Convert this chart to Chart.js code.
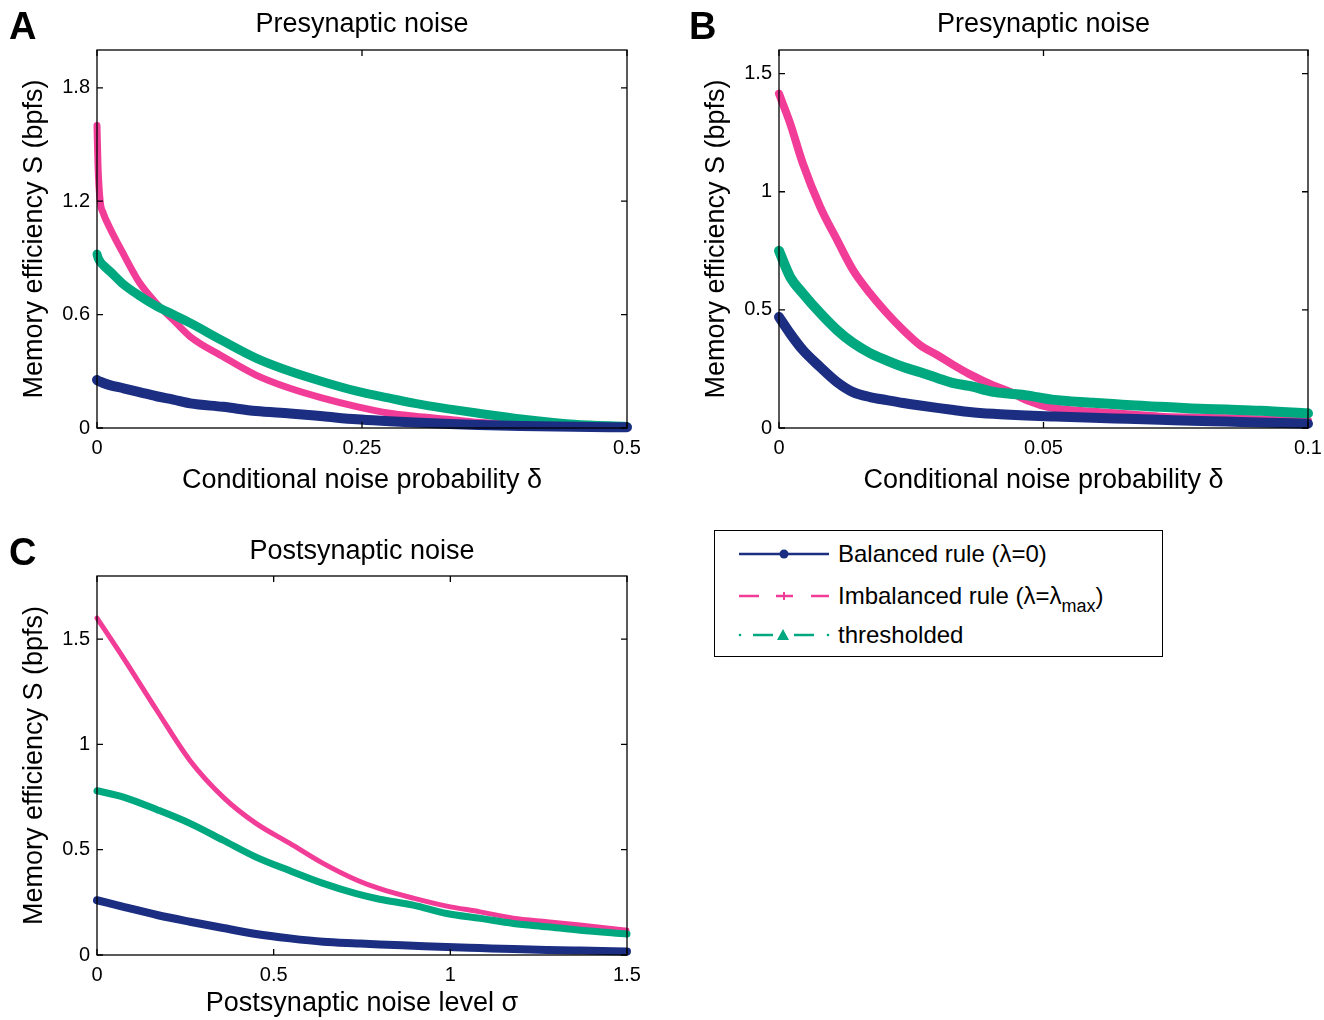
<!DOCTYPE html>
<html>
<head>
<meta charset="utf-8">
<script src="https://cdn.jsdelivr.net/npm/chart.js@4.4.1/dist/chart.umd.min.js"></script>
<style>
  body { margin: 0; background: #fff; width: 1324px; height: 1020px; overflow: hidden; position: relative;
         font-family: "Liberation Sans", Arial, Helvetica, sans-serif; color: #000; }
  canvas { position: absolute; }
  .letra { position: absolute; font-weight: bold; font-size: 38px; line-height: 38px; }
  #leyenda { position: absolute; left: 714px; top: 530px; width: 447px; height: 125px; border: 1.5px solid #000; }
  .fila { position: absolute; left: 0; height: 30px; width: 447px; }
  .fila svg { position: absolute; left: 22px; top: 0; }
  .fila span.txt { position: absolute; left: 123px; top: 0; font-size: 24px; line-height: 30px; white-space: nowrap; }
  .sub { font-size: 18px; position: relative; top: 8px; }
</style>
</head>
<body>

<canvas id="panelA" width="660" height="510" style="left:0;top:0"></canvas>
<canvas id="panelB" width="660" height="510" style="left:682px;top:0"></canvas>
<canvas id="panelC" width="660" height="492" style="left:0;top:528px"></canvas>

<div class="letra" style="left:9px;top:7px">A</div>
<div class="letra" style="left:689px;top:7px">B</div>
<div class="letra" style="left:9px;top:533px">C</div>

<div id="leyenda">
  <div class="fila" style="top:8px">
    <svg width="94" height="30">
      <line x1="2" y1="15" x2="92" y2="15" stroke="#1b2e82" stroke-width="2.5"/>
      <circle cx="47" cy="15" r="4.5" fill="#1b2e82"/>
    </svg>
    <span class="txt">Balanced rule (λ=0)</span>
  </div>
  <div class="fila" style="top:50px">
    <svg width="94" height="30">
      <line x1="2" y1="15" x2="22" y2="15" stroke="#f23d98" stroke-width="2.5"/>
      <line x1="39" y1="15" x2="56" y2="15" stroke="#f23d98" stroke-width="2.5"/>
      <line x1="47" y1="11" x2="47" y2="19" stroke="#f23d98" stroke-width="2"/>
      <line x1="74" y1="15" x2="92" y2="15" stroke="#f23d98" stroke-width="2.5"/>
    </svg>
    <span class="txt">Imbalanced rule (λ=λ<span class="sub">max</span>)</span>
  </div>
  <div class="fila" style="top:89px">
    <svg width="94" height="30">
      <circle cx="3" cy="15" r="1.3" fill="#00a87f"/>
      <line x1="16" y1="15" x2="36" y2="15" stroke="#00a87f" stroke-width="2.5"/>
      <polygon points="46,9 52,20 40,20" fill="#00a87f"/>
      <line x1="57" y1="15" x2="77" y2="15" stroke="#00a87f" stroke-width="2.5"/>
      <circle cx="91" cy="15" r="1.3" fill="#00a87f"/>
    </svg>
    <span class="txt">thresholded</span>
  </div>
</div>

<script>
// ---- Datos ----
// Panel A: ruido presinaptico, delta de 0 a 0.5
const xA = [0, 0.001, 0.003, 0.006, 0.012, 0.025, 0.04, 0.056, 0.072, 0.088, 0.119, 0.15, 0.182, 0.213, 0.245, 0.276, 0.3, 0.333, 0.36, 0.4, 0.45, 0.5];
const balanceadoA = [0.254, 0.25, 0.245, 0.238, 0.227, 0.21, 0.19, 0.168, 0.15, 0.13, 0.112, 0.09, 0.077, 0.062, 0.046, 0.036, 0.029, 0.021, 0.016, 0.01, 0.006, 0.004];
const desbalanceadoA = [1.6, 1.38, 1.2, 1.136, 1.06, 0.92, 0.77, 0.66, 0.571, 0.483, 0.377, 0.28, 0.21, 0.158, 0.113, 0.078, 0.062, 0.045, 0.03, 0.015, 0.006, 0.003];
const umbralA = [0.92, 0.9, 0.88, 0.86, 0.83, 0.76, 0.7, 0.645, 0.6, 0.555, 0.46, 0.37, 0.3, 0.245, 0.195, 0.158, 0.13, 0.1, 0.078, 0.048, 0.02, 0.008];

// Panel B: ruido presinaptico, delta de 0 a 0.1
const xB = [0, 0.0021, 0.0045, 0.0078, 0.011, 0.014, 0.0172, 0.0204, 0.0235, 0.0267, 0.0299, 0.033, 0.036, 0.0405, 0.0437, 0.0468, 0.0516, 0.0594, 0.0658, 0.072, 0.078, 0.0846, 0.091, 0.1];
const balanceadoB = [0.47, 0.4, 0.33, 0.258, 0.194, 0.152, 0.131, 0.118, 0.106, 0.095, 0.085, 0.076, 0.068, 0.06, 0.056, 0.053, 0.049, 0.043, 0.039, 0.035, 0.031, 0.027, 0.023, 0.018];
const desbalanceadoB = [1.415, 1.29, 1.12, 0.935, 0.795, 0.668, 0.57, 0.486, 0.414, 0.35, 0.309, 0.266, 0.228, 0.18, 0.153, 0.118, 0.085, 0.069, 0.058, 0.048, 0.044, 0.041, 0.036, 0.031];
const umbralB = [0.75, 0.64, 0.57, 0.486, 0.414, 0.36, 0.317, 0.285, 0.258, 0.236, 0.212, 0.19, 0.178, 0.153, 0.145, 0.138, 0.12, 0.107, 0.097, 0.09, 0.083, 0.078, 0.073, 0.062];

// Panel C: ruido postsinaptico, sigma de 0 a 1.5
const xC = [0, 0.075, 0.17, 0.263, 0.357, 0.45, 0.546, 0.64, 0.736, 0.8, 0.895, 0.99, 1.084, 1.178, 1.274, 1.367, 1.5];
const balanceadoC = [0.26, 0.229, 0.19, 0.158, 0.128, 0.1, 0.079, 0.063, 0.055, 0.05, 0.044, 0.038, 0.033, 0.028, 0.024, 0.021, 0.017];
const desbalanceadoC = [1.6, 1.41, 1.16, 0.924, 0.75, 0.625, 0.53, 0.435, 0.355, 0.315, 0.27, 0.232, 0.205, 0.175, 0.158, 0.142, 0.118];
const umbralC = [0.78, 0.75, 0.69, 0.625, 0.545, 0.465, 0.4, 0.34, 0.29, 0.265, 0.237, 0.197, 0.174, 0.15, 0.134, 0.118, 0.1];

// Marcas de los ejes
const ticksXA = [0, 0.25, 0.5];   const etiquetasXA = ['0', '0.25', '0.5'];
const ticksYA = [0, 0.6, 1.2, 1.8]; const etiquetasYA = ['0', '0.6', '1.2', '1.8'];
const ticksXB = [0, 0.05, 0.1];   const etiquetasXB = ['0', '0.05', '0.1'];
const ticksYB = [0, 0.5, 1, 1.5]; const etiquetasYB = ['0', '0.5', '1', '1.5'];
const ticksXC = [0, 0.5, 1, 1.5]; const etiquetasXC = ['0', '0.5', '1', '1.5'];
const ticksYC = [0, 0.5, 1, 1.5]; const etiquetasYC = ['0', '0.5', '1', '1.5'];

const AZUL = '#1b2e82';
const ROSA = '#f23d98';
const VERDE = '#00a87f';
const FUENTE = '"Liberation Sans", Arial, Helvetica, sans-serif';

// Caja y marcas hacia adentro en los cuatro lados
const cajaPlugin = {
    id: 'caja',
    afterDraw(chart) {
        const { ctx, chartArea: a, scales } = chart;
        const largo = 6;
        ctx.save();
        ctx.strokeStyle = '#000';
        ctx.lineWidth = 1.3;
        ctx.strokeRect(a.left, a.top, a.right - a.left, a.bottom - a.top);
        ctx.beginPath();
        scales.x.ticks.forEach(t => {
            const px = scales.x.getPixelForValue(t.value);
            ctx.moveTo(px, a.bottom); ctx.lineTo(px, a.bottom - largo);
            ctx.moveTo(px, a.top); ctx.lineTo(px, a.top + largo);
        });
        scales.y.ticks.forEach(t => {
            const py = scales.y.getPixelForValue(t.value);
            ctx.moveTo(a.left, py); ctx.lineTo(a.left + largo, py);
            ctx.moveTo(a.right, py); ctx.lineTo(a.right - largo, py);
        });
        ctx.stroke();
        ctx.restore();
    }
};

function puntos(xs, ys) {
    return xs.map((x, i) => ({ x: x, y: ys[i] }));
}

function crearPanel(id, p) {
    new Chart(document.getElementById(id), {
        type: 'line',
        data: {
            datasets: [
                { label: 'Balanced rule (λ=0)', data: puntos(p.xs, p.bal), borderColor: AZUL, borderWidth: p.anchos[0] },
                { label: 'thresholded', data: puntos(p.xs, p.umb), borderColor: VERDE, borderWidth: p.anchos[2] },
                { label: 'Imbalanced rule (λ=λmax)', data: puntos(p.xs, p.des), borderColor: ROSA, borderWidth: p.anchos[1] }
            ]
        },
        options: {
            responsive: false,
            animation: false,
            layout: { padding: { left: 0, right: p.derecha, top: 0, bottom: 0 } },
            elements: {
                point: { radius: 0 },
                line: { cubicInterpolationMode: 'monotone', borderCapStyle: 'round', borderJoinStyle: 'round', fill: false }
            },
            datasets: { line: { clip: false } },
            plugins: {
                legend: { display: false },
                tooltip: { enabled: false },
                title: {
                    display: true,
                    text: p.titulo,
                    fullSize: false,
                    color: '#000',
                    font: { family: FUENTE, size: 27, weight: 'normal', lineHeight: 1.2 },
                    padding: p.padTitulo
                }
            },
            scales: {
                x: {
                    type: 'linear',
                    min: 0, max: p.xmax,
                    grid: { display: false, drawTicks: false },
                    border: { display: false },
                    afterBuildTicks: s => { s.ticks = p.ticksX.map(v => ({ value: v })); },
                    afterFit: s => { s.height = p.altoX; },
                    ticks: {
                        autoSkip: false, maxRotation: 0, padding: 8, color: '#000',
                        font: { family: FUENTE, size: 20 },
                        callback: (v, i) => p.etqX[i]
                    },
                    title: {
                        display: true, text: p.tituloX, color: '#000',
                        font: { family: FUENTE, size: 27, lineHeight: 1.2 },
                        padding: { top: 0, bottom: p.padX }
                    }
                },
                y: {
                    type: 'linear',
                    min: 0, max: p.ymax,
                    grid: { display: false, drawTicks: false },
                    border: { display: false },
                    afterBuildTicks: s => { s.ticks = p.ticksY.map(v => ({ value: v })); },
                    afterFit: s => { s.width = 97; },
                    ticks: {
                        padding: 7, color: '#000',
                        font: { family: FUENTE, size: 20 },
                        callback: (v, i) => p.etqY[i]
                    },
                    title: {
                        display: true, text: 'Memory efficiency S (bpfs)', color: '#000',
                        font: { family: FUENTE, size: 27, lineHeight: 1.2 },
                        padding: { top: 18, bottom: 0 }
                    }
                }
            }
        },
        plugins: [cajaPlugin]
    });
}

crearPanel('panelA', {
    xs: xA, bal: balanceadoA, des: desbalanceadoA, umb: umbralA,
    anchos: [10, 7, 9],
    titulo: 'Presynaptic noise', tituloX: 'Conditional noise probability δ',
    xmax: 0.5, ymax: 2.0,
    ticksX: ticksXA, etqX: etiquetasXA, ticksY: ticksYA, etqY: etiquetasYA,
    derecha: 33, altoX: 82, padX: 13.4, padTitulo: { top: 8, bottom: 9.6 }
});

crearPanel('panelB', {
    xs: xB, bal: balanceadoB, des: desbalanceadoB, umb: umbralB,
    anchos: [10, 8, 10],
    titulo: 'Presynaptic noise', tituloX: 'Conditional noise probability δ',
    xmax: 0.1, ymax: 1.6,
    ticksX: ticksXB, etqX: etiquetasXB, ticksY: ticksYB, etqY: etiquetasYB,
    derecha: 34, altoX: 82, padX: 13.4, padTitulo: { top: 8, bottom: 9.6 }
});

crearPanel('panelC', {
    xs: xC, bal: balanceadoC, des: desbalanceadoC, umb: umbralC,
    anchos: [8, 5, 7],
    titulo: 'Postsynaptic noise', tituloX: 'Postsynaptic noise level σ',
    xmax: 1.5, ymax: 1.8,
    ticksX: ticksXC, etqX: etiquetasXC, ticksY: ticksYC, etqY: etiquetasYC,
    derecha: 33, altoX: 65, padX: 0, padTitulo: { top: 7, bottom: 8.6 }
});
</script>
</body>
</html>
